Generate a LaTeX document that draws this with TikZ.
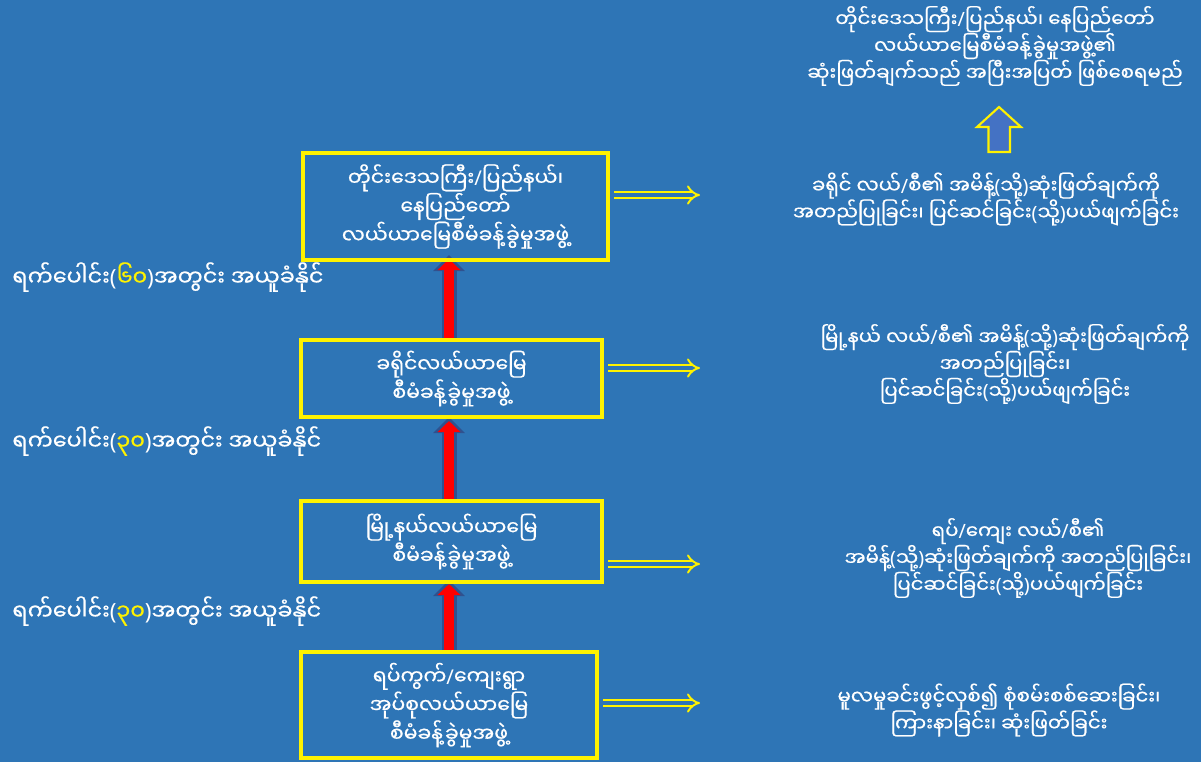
\documentclass[tikz,border=0pt]{standalone}
\usepackage{fontspec}
\newfontfamily\mmfont[Script=Myanmar, FakeBold=0.6]{Noto Sans Myanmar UI}
\newfontfamily\latinfont{Noto Sans}
\newcommand{\mmsl}{{\latinfont/}}
\newcommand{\mmlp}{{\latinfont(}}
\newcommand{\mmrp}{{\latinfont)}}
\usetikzlibrary{arrows.meta,calc}
\definecolor{bgblue}{RGB}{46,117,182}
\definecolor{arrowline}{RGB}{47,82,143}
\definecolor{upfill}{RGB}{68,114,196}
\pgfdeclarelayer{back}
\pgfsetlayers{back,main}
\tikzset{
  board/.style={draw=yellow, line width=2.3pt, text=white, align=center, inner sep=0pt,
    font=\mmfont\fontsize{11.6}{15.3}\selectfont},
  note/.style={text=white, align=center, inner sep=0pt, font=\mmfont\fontsize{11.2}{15.3}\selectfont},
  dayslabel/.style={text=white, anchor=west, inner sep=0pt, font=\mmfont\fontsize{12.7}{15}\selectfont},
  rightarrow/.style={draw=yellow, double=bgblue, double distance=2.6pt, line width=1.1pt,
    shorten <=2.5pt, -{Implies}},
  upout/.style={draw=arrowline, line width=0.3cm, -{Triangle[length=0.32cm, width=0.62cm]}},
  upin/.style={draw=red, line width=0.2cm, -{Triangle[length=0.22cm, width=0.44cm]}},
  uparrow/.style={draw=yellow, fill=upfill, line width=1.2pt}
}
\begin{document}
\begin{tikzpicture}[x=0.02cm, y=-0.02cm]
  \useasboundingbox (0,0) rectangle (1201,762);
  \begin{pgfonlayer}{back}
    \fill[bgblue] (0,0) rectangle (1201,762);
  \end{pgfonlayer}

  \node[board, minimum width=6.1cm, minimum height=2.14cm] (b1) at (455.5,206.5)
    {တိုင်းဒေသကြီး\mmsl ပြည်နယ်၊\\နေပြည်တော်\\လယ်ယာမြေစီမံခန့်ခွဲမှုအဖွဲ့};
  \node[board, minimum width=6.02cm, minimum height=1.54cm] (b2) at (451.5,378.5)
    {ခရိုင်လယ်ယာမြေ\\စီမံခန့်ခွဲမှုအဖွဲ့};
  \node[board, minimum width=6.02cm, minimum height=1.62cm] (b3) at (451.5,541.5)
    {မြို့နယ်လယ်ယာမြေ\\စီမံခန့်ခွဲမှုအဖွဲ့};
  \node[board, minimum width=5.92cm, minimum height=2.12cm] (b4) at (449,705)
    {ရပ်ကွက်\mmsl ကျေးရွာ\\အုပ်စုလယ်ယာမြေ\\စီမံခန့်ခွဲမှုအဖွဲ့};

  \node[dayslabel] (d1) at (12,277) {ရက်ပေါင်း\mmlp\textcolor{yellow}{၆၀}\mmrp အတွင်း အယူခံနိုင်};
  \node[dayslabel] (d2) at (12,441) {ရက်ပေါင်း\mmlp\textcolor{yellow}{၃၀}\mmrp အတွင်း အယူခံနိုင်};
  \node[dayslabel] (d3) at (12,611) {ရက်ပေါင်း\mmlp\textcolor{yellow}{၃၀}\mmrp အတွင်း အယူခံနိုင်};

  \node[note] (t0) at (995,46)
    {တိုင်းဒေသကြီး\mmsl ပြည်နယ်၊ နေပြည်တော်\\လယ်ယာမြေစီမံခန့်ခွဲမှုအဖွဲ့၏\\ဆုံးဖြတ်ချက်သည် အပြီးအပြတ် ဖြစ်စေရမည်};
  \node[note] (t1) at (986,199)
    {ခရိုင် လယ်\mmsl စီ၏ အမိန့်\mmlp သို့\mmrp ဆုံးဖြတ်ချက်ကို\\အတည်ပြုခြင်း၊ ပြင်ဆင်ခြင်း\mmlp သို့\mmrp ပယ်ဖျက်ခြင်း};
  \node[note] (t2) at (1005,364)
    {မြို့နယ် လယ်\mmsl စီ၏ အမိန့်\mmlp သို့\mmrp ဆုံးဖြတ်ချက်ကို\\အတည်ပြုခြင်း၊\\ပြင်ဆင်ခြင်း\mmlp သို့\mmrp ပယ်ဖျက်ခြင်း};
  \node[note] (t3) at (1018,558)
    {ရပ်\mmsl ကျေး လယ်\mmsl စီ၏\\အမိန့်\mmlp သို့\mmrp ဆုံးဖြတ်ချက်ကို အတည်ပြုခြင်း၊\\ပြင်ဆင်ခြင်း\mmlp သို့\mmrp ပယ်ဖျက်ခြင်း};
  \node[note] (t4) at (999,710)
    {မူလမှုခင်းဖွင့်လှစ်၍ စုံစမ်းစစ်ဆေးခြင်း၊\\ကြားနာခြင်း၊ ဆုံးဖြတ်ခြင်း};

  \draw[uparrow] (988.5,152) -- (988.5,127) -- (977,127) -- (999,107) -- (1021,127)
    -- (1010,127) -- (1010,152) -- cycle;

  \foreach \b/\y in {b1/195, b2/368, b3/564, b4/703}{
    \coordinate (e\b) at (700,\y);
    \draw[rightarrow] (\b.east |- e\b) -- (e\b);
  }

  \coordinate (ax) at (449,0);
  \begin{pgfonlayer}{back}
    \foreach \lo/\hi/\d in {b4/b3/4, b3/b2/2, b2/b1/7}{
      \draw[upout] (ax |- \lo.north) -- ($(ax |- \hi.south)+(0,-\d)$);
      \draw[upin] (ax |- \lo.north) -- ($(ax |- \hi.south)+(0,4-\d)$);
    }
  \end{pgfonlayer}
\end{tikzpicture}
\end{document}
